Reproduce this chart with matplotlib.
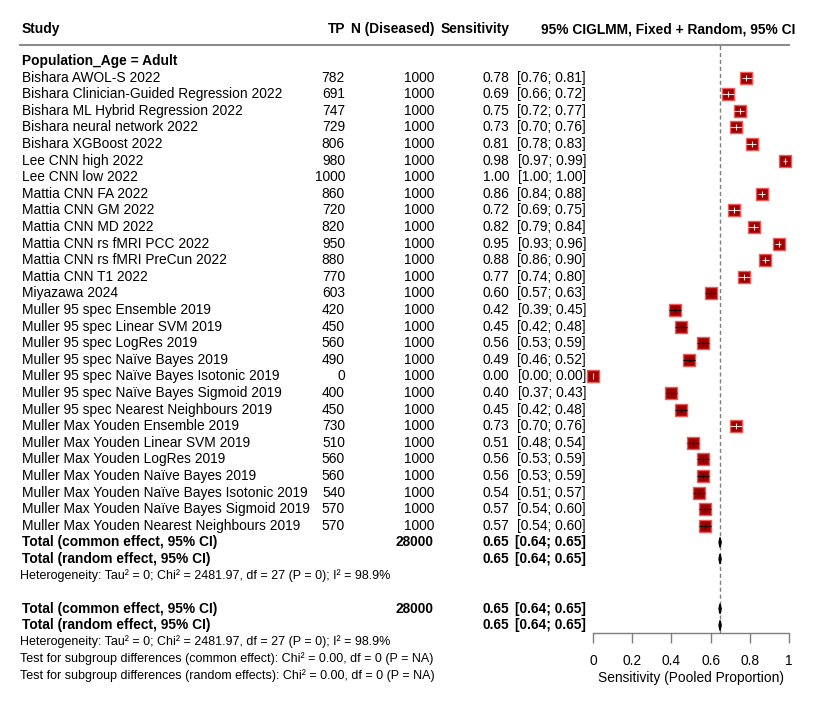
import matplotlib
matplotlib.use("Agg")
import matplotlib.pyplot as plt
import matplotlib.transforms as mtransforms
from matplotlib.lines import Line2D
import numpy as np

plt.rcParams['font.family'] = ['Liberation Sans', 'DejaVu Sans']

studies = [
    "Bishara AWOL-S 2022",
    "Bishara Clinician-Guided Regression 2022",
    "Bishara ML Hybrid Regression 2022",
    "Bishara neural network 2022",
    "Bishara XGBoost 2022",
    "Lee CNN high 2022",
    "Lee CNN low 2022",
    "Mattia CNN FA 2022",
    "Mattia CNN GM 2022",
    "Mattia CNN MD 2022",
    "Mattia CNN rs fMRI PCC 2022",
    "Mattia CNN rs fMRI PreCun 2022",
    "Mattia CNN T1 2022",
    "Miyazawa 2024",
    "Muller 95 spec Ensemble 2019",
    "Muller 95 spec Linear SVM 2019",
    "Muller 95 spec LogRes 2019",
    "Muller 95 spec Naïve Bayes 2019",
    "Muller 95 spec Naïve Bayes Isotonic 2019",
    "Muller 95 spec Naïve Bayes Sigmoid 2019",
    "Muller 95 spec Nearest Neighbours 2019",
    "Muller Max Youden Ensemble 2019",
    "Muller Max Youden Linear SVM 2019",
    "Muller Max Youden LogRes 2019",
    "Muller Max Youden Naïve Bayes 2019",
    "Muller Max Youden Naïve Bayes Isotonic 2019",
    "Muller Max Youden Naïve Bayes Sigmoid 2019",
    "Muller Max Youden Nearest Neighbours 2019",
]
tp = [782, 691, 747, 729, 806, 980, 1000, 860, 720, 820, 950, 880, 770, 603,
      420, 450, 560, 490, 0, 400, 450, 730, 510, 560, 560, 540, 570, 570]
n_dis = [1000, 1000, 1000, 1000, 1000, 1000, 1000, 1000, 1000, 1000, 1000, 1000, 1000, 1000,
         1000, 1000, 1000, 1000, 1000, 1000, 1000, 1000, 1000, 1000, 1000, 1000, 1000, 1000]
sens = [0.78, 0.69, 0.75, 0.73, 0.81, 0.98, 1.00, 0.86, 0.72, 0.82, 0.95, 0.88, 0.77, 0.60,
        0.42, 0.45, 0.56, 0.49, 0.00, 0.40, 0.45, 0.73, 0.51, 0.56, 0.56, 0.54, 0.57, 0.57]
lower = [0.76, 0.66, 0.72, 0.70, 0.78, 0.97, 1.00, 0.84, 0.69, 0.79, 0.93, 0.86, 0.74, 0.57,
         0.39, 0.42, 0.53, 0.46, 0.00, 0.37, 0.42, 0.70, 0.48, 0.53, 0.53, 0.51, 0.54, 0.54]
upper = [0.81, 0.72, 0.77, 0.76, 0.83, 0.99, 1.00, 0.88, 0.75, 0.84, 0.96, 0.90, 0.80, 0.63,
         0.45, 0.48, 0.59, 0.52, 0.00, 0.43, 0.48, 0.76, 0.54, 0.59, 0.59, 0.57, 0.60, 0.60]

total_n = 28000
pooled_est = 0.648
pooled_lo = 0.643
pooled_hi = 0.654
pooled_label = "0.65"
pooled_ci_label = "[0.64; 0.65]"
het_text = "Heterogeneity: Tau² = 0; Chi² = 2481.97, df = 27 (P = 0); I² = 98.9%"
test_common = "Test for subgroup differences (common effect): Chi² = 0.00, df = 0 (P = NA)"
test_random = "Test for subgroup differences (random effects): Chi² = 0.00, df = 0 (P = NA)"
xticks = [0, 0.2, 0.4, 0.6, 0.8, 1]
xtick_labels = ["0", "0.2", "0.4", "0.6", "0.8", "1"]

W, H = 824, 711
fig = plt.figure(figsize=(W / 100, H / 100), dpi=100)

row_h = 16.6
row0 = 61.0
ax_top, ax_bot = 45.0, 633.0
x0px, x1px = 593.0, 789.0
ax = fig.add_axes([x0px / W, 1 - ax_bot / H, (x1px - x0px) / W, (ax_bot - ax_top) / H])
ax.set_xlim(0, 1)
ax.set_ylim((ax_bot - row0) / row_h, (ax_top - row0) / row_h)

tr = mtransforms.blended_transform_factory(fig.transFigure, ax.transData)
FS = 9.9
FS_small = 9.0

def txt(xpx, r, s, ha="left", bold=False, size=FS):
    ax.text(xpx / W, r, s, transform=tr, ha=ha, va="center", fontsize=size,
            fontweight="bold" if bold else "normal", clip_on=False, color="black")

# header
hr = (29 - row0) / row_h
txt(22, hr, "Study", bold=True)
txt(345, hr, "TP", ha="right", bold=True)
txt(434, hr, "N (Diseased)", ha="right", bold=True)
txt(509, hr, "Sensitivity", ha="right", bold=True)
txt(795, hr, "95% CIGLMM, Fixed + Random, 95% CI", ha="right", bold=True)
fig.add_artist(Line2D([20 / W, x1px / W], [1 - ax_top / H, 1 - ax_top / H],
                      color="#8c8c8c", lw=1.5, transform=fig.transFigure))

txt(22, 0, "Population_Age = Adult", bold=True)

sq_w = 0.059
for i, name in enumerate(studies):
    r = i + 1
    txt(22, r, name)
    txt(345, r, str(tp[i]), ha="right")
    txt(434, r, str(n_dis[i]), ha="right")
    txt(509, r, f"{sens[i]:.2f}", ha="right")
    txt(586, r, f"[{lower[i]:.2f}; {upper[i]:.2f}]", ha="right")
    if sens[i] >= 1.0:
        continue
    p = tp[i] / n_dis[i]
    ci_w = 3.92 * np.sqrt(p * (1 - p) / n_dis[i])
    inside = "black" if ci_w > sq_w else "white"
    ax.scatter([sens[i]], [r], marker="s", s=80, facecolor="#9E0000",
               edgecolor="#F25A5A", linewidths=1.0, zorder=3, clip_on=False)
    ax.plot([lower[i], upper[i]], [r, r], color=inside, lw=0.8, zorder=4,
            solid_capstyle="butt", clip_on=False, alpha=0.85)
    ax.plot([sens[i]], [r], marker="|", ms=5, mew=0.8, color=inside, zorder=4,
            clip_on=False, alpha=0.85)

def total_rows(r_common):
    txt(22, r_common, "Total (common effect, 95% CI)", bold=True)
    txt(434, r_common, str(total_n), ha="right", bold=True)
    txt(22, r_common + 1, "Total (random effect, 95% CI)", bold=True)
    for rr in (r_common, r_common + 1):
        txt(509, rr, pooled_label, ha="right", bold=True)
        txt(586, rr, pooled_ci_label, ha="right", bold=True)
        ax.fill([pooled_lo, pooled_est, pooled_hi, pooled_est],
                [rr, rr - 0.3, rr, rr + 0.3], color="black", zorder=4, clip_on=False)
    txt(20, r_common + 2, het_text, size=FS_small)

total_rows(29)
total_rows(33)
txt(20, 36, test_common, size=FS_small)
txt(20, 37, test_random, size=FS_small)

ax.axvline(pooled_est, color="#7f7f7f", lw=1.0, ls=(0, (3, 2)), zorder=1)

for s in ("top", "right", "left"):
    ax.spines[s].set_visible(False)
ax.spines["bottom"].set_color("#7f7f7f")
ax.spines["bottom"].set_linewidth(1.0)
ax.set_yticks([])
ax.set_xticks(xticks)
ax.set_xticklabels(xtick_labels)
ax.tick_params(axis="x", direction="out", length=7, width=1.0, color="#7f7f7f",
               labelsize=FS, pad=8)
ax.set_xlabel("Sensitivity (Pooled Proportion)", fontsize=FS, labelpad=2)
ax.patch.set_alpha(0)

fig.savefig("out.png", dpi=100)
